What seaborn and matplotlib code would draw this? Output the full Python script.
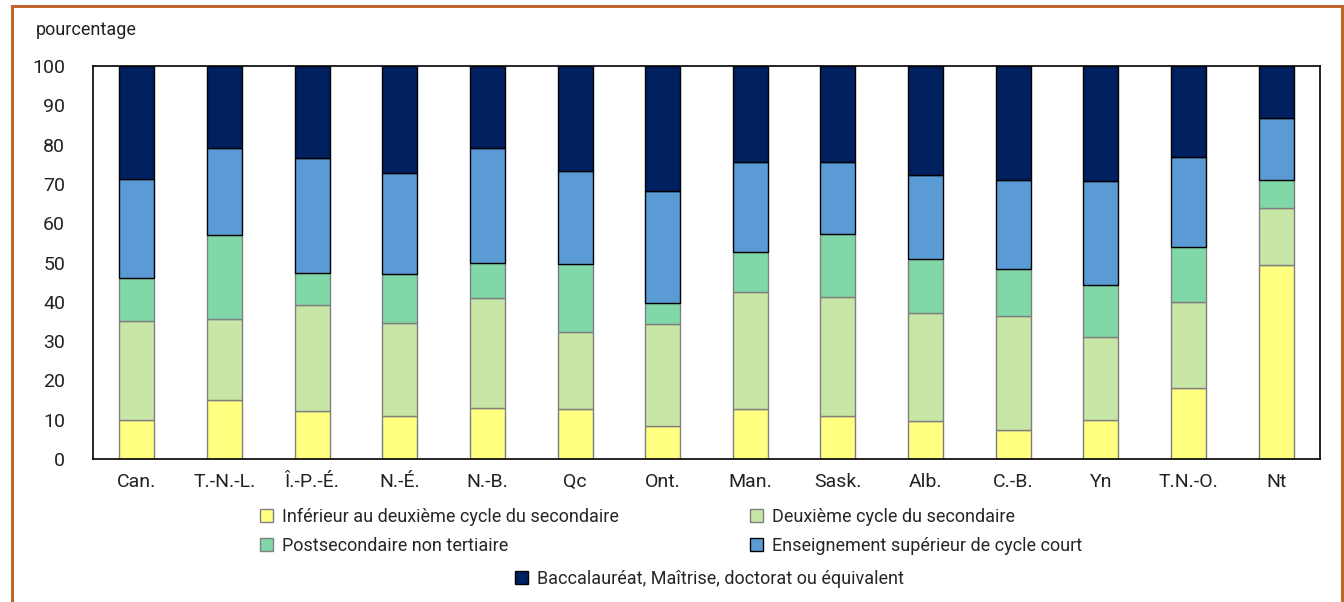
import matplotlib
matplotlib.use("Agg")
import matplotlib.pyplot as plt
import matplotlib.patches as mpatches
import numpy as np
import pandas as pd
import seaborn as sns

categories = ["Can.", "T.-N.-L.", "Î.-P.-É.", "N.-É.", "N.-B.", "Qc", "Ont.",
              "Man.", "Sask.", "Alb.", "C.-B.", "Yn", "T.N.-O.", "Nt"]

series_names = [
    "Inférieur au deuxième cycle du secondaire",
    "Deuxième cycle du secondaire",
    "Postsecondaire non tertiaire",
    "Enseignement supérieur de cycle court",
    "Baccalauréat, Maîtrise, doctorat ou équivalent",
]

# segment values (percent)
inferieur = [10.0, 15.0, 12.2, 10.9, 13.0, 12.7, 8.4, 12.7, 10.9, 9.7, 7.4, 9.9, 18.1, 49.4]
deuxieme = [25.1, 20.6, 27.0, 23.7, 28.0, 19.6, 26.0, 29.8, 30.3, 27.5, 29.0, 21.1, 21.8, 14.5]
postsec = [11.0, 21.4, 8.1, 12.5, 8.9, 17.3, 5.3, 10.2, 16.1, 13.7, 11.9, 13.3, 14.0, 7.1]
court = [25.1, 22.1, 29.3, 25.7, 29.2, 23.7, 28.5, 22.9, 18.3, 21.4, 22.7, 26.4, 22.9, 15.8]
bacc = [28.8, 20.9, 23.4, 27.2, 20.9, 26.7, 31.8, 24.4, 24.4, 27.7, 29.0, 29.3, 23.2, 13.2]

colors = ["#FFFF80", "#C8E6A6", "#80D8A8", "#5B9BD5", "#002060"]
edges = ["#7F7F7F", "#7F7F7F", "#7F7F7F", "#000000", "#000000"]

sns.set_theme(style="white")
plt.rcParams["font.family"] = ["Roboto", "DejaVu Sans"]

fig = plt.figure(figsize=(13.44, 6.02), dpi=100)
ax = fig.add_axes([93/1344, 1-459/602, (1320-93)/1344, (459-66)/602])

layers = [inferieur, deuxieme, postsec, court, bacc]
bottom = np.zeros(len(categories))
for name, vals, c, e in zip(series_names, layers, colors, edges):
    df = pd.DataFrame({"cat": categories, "val": vals})
    sns.barplot(data=df, x="cat", y="val", order=categories, color=c,
                width=0.4, edgecolor=e, linewidth=1.0, saturation=1,
                bottom=bottom.copy(), ax=ax, errorbar=None)
    bottom = bottom + np.array(vals)

ax.set_xlim(-0.5, len(categories) - 0.5)
ax.set_ylim(0, 100)
ax.set_yticks(np.arange(0, 101, 10))
ax.set_xlabel("")
ax.set_ylabel("")
for s in ax.spines.values():
    s.set_visible(True)
    s.set_color("black")
    s.set_linewidth(1.2)
ax.tick_params(axis="both", length=0, labelsize=14, colors="#222222")
ax.tick_params(axis="y", pad=20)
ax.tick_params(axis="x", pad=10)

fig.text(36/1344, 1-30/602, "pourcentage", fontsize=13, color="#222222",
         ha="left", va="center")

# legend entries
handles = [mpatches.Patch(facecolor=c, edgecolor=e, linewidth=1.0)
           for c, e in zip(colors, edges)]
positions = [(260, 517), (750, 517), (260, 546), (750, 546), (515, 579)]
for h, name, (px, py) in zip(handles, series_names, positions):
    fig.legend([h], [name], loc="center left",
               bbox_to_anchor=(px/1344, 1-py/602), frameon=False,
               fontsize=13, handlelength=0.7, handleheight=0.7,
               handletextpad=0.5, borderpad=0, borderaxespad=0)

# outer orange frame
fig.patches.append(mpatches.Rectangle((12/1344, -0.05), (1342-12)/1344, (1.05 - 6/602),
                                      transform=fig.transFigure, fill=False,
                                      edgecolor="#C0652B", linewidth=2.2))

fig.savefig("out.png", dpi=100)
